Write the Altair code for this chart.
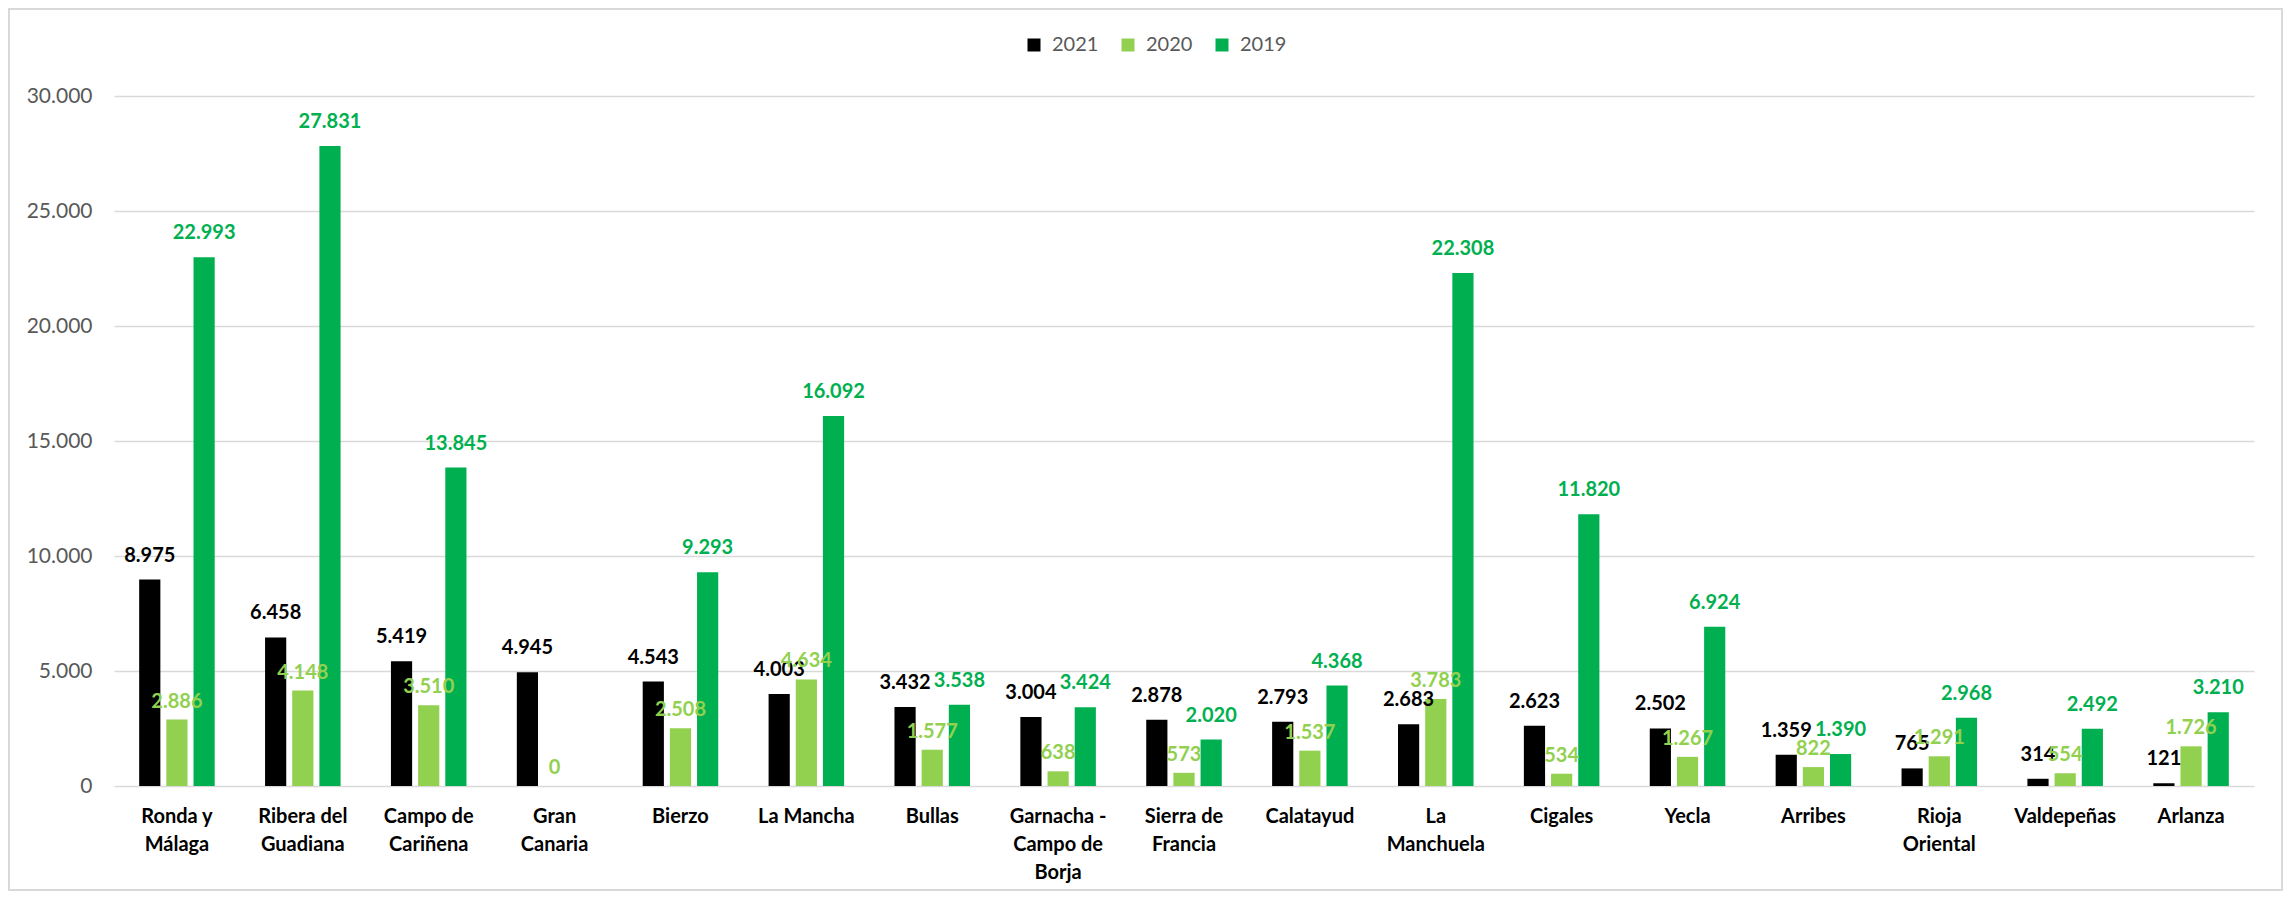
import json
import altair as alt
import pandas as pd

categories = ["Ronda y Málaga", "Ribera del Guadiana", "Campo de Cariñena", "Gran Canaria",
              "Bierzo", "La Mancha", "Bullas", "Garnacha - Campo de Borja", "Sierra de Francia",
              "Calatayud", "La Manchuela", "Cigales", "Yecla", "Arribes", "Rioja Oriental",
              "Valdepeñas", "Arlanza"]
category_lines = [["Ronda y", "Málaga"], ["Ribera del", "Guadiana"], ["Campo de", "Cariñena"],
                  ["Gran", "Canaria"], ["Bierzo"], ["La Mancha"], ["Bullas"],
                  ["Garnacha -", "Campo de", "Borja"], ["Sierra de", "Francia"], ["Calatayud"],
                  ["La", "Manchuela"], ["Cigales"], ["Yecla"], ["Arribes"], ["Rioja", "Oriental"],
                  ["Valdepeñas"], ["Arlanza"]]
series = ["2021", "2020", "2019"]
v2021 = [8975, 6458, 5419, 4945, 4543, 4003, 3432, 3004, 2878, 2793, 2683, 2623, 2502, 1359, 765, 314, 121]
v2020 = [2886, 4148, 3510, 0, 2508, 4634, 1577, 638, 573, 1537, 3783, 534, 1267, 822, 1291, 554, 1726]
v2019 = [22993, 27831, 13845, None, 9293, 16092, 3538, 3424, 2020, 4368, 22308, 11820, 6924, 1390, 2968, 2492, 3210]
colors = ["#000000", "#92D050", "#00B050"]
y_ticks = [0, 5000, 10000, 15000, 20000, 25000, 30000]

rows = []
for s, vals in zip(series, [v2021, v2020, v2019]):
    for c, v in zip(categories, vals):
        if v is None:
            continue
        rows.append({"cat": c, "series": s, "value": v, "label": f"{v:,}".replace(",", ".")})
df = pd.DataFrame(rows)

FONT = "Lato"
wrap = json.dumps(dict(zip(categories, category_lines)), ensure_ascii=False)

color_scale = alt.Scale(domain=series, range=colors)
x_enc = alt.X("cat:N", sort=categories, title=None,
              scale=alt.Scale(paddingInner=0.4, paddingOuter=0.2),
              axis=alt.Axis(labelAngle=0, labelFont=FONT, labelFontSize=20, labelFontWeight="bold",
                            labelColor="#000000", labelLineHeight=28, labelPadding=20,
                            ticks=False, domain=False, grid=False, labelLimit=0,
                            labelExpr="(" + wrap + ")[datum.value]"))
xo_enc = alt.XOffset("series:N", sort=series, scale=alt.Scale(paddingInner=0.22))
y_enc = alt.Y("value:Q", title=None, scale=alt.Scale(domain=[0, 30000], nice=False),
              axis=alt.Axis(values=y_ticks, labelFont=FONT, labelFontSize=21, labelColor="#595959",
                            labelPadding=22, ticks=False, domain=False, gridColor="#d9d9d9",
                            gridWidth=1.5,
                            labelExpr="replace(format(datum.value, ','), ',', '.')"))

base = alt.Chart(df)
bars = base.mark_bar().encode(
    x=x_enc, xOffset=xo_enc, y=y_enc,
    color=alt.Color("series:N", scale=color_scale, title=None,
                    legend=alt.Legend(orient="none", legendX=910, legendY=-61, direction="horizontal",
                                      symbolType="square", symbolSize=169, symbolStrokeWidth=0,
                                      labelFont=FONT, labelFontSize=20, labelColor="#595959",
                                      labelOffset=8, columnPadding=19)),
)
text_dark = base.transform_filter("datum.series != '2020'").mark_text(
    font=FONT, fontSize=20, fontWeight="bold", baseline="alphabetic", dy=-18
).encode(x=x_enc, xOffset=xo_enc, y=y_enc, text="label:N",
         color=alt.Color("series:N", scale=color_scale, legend=None))
text_light = base.transform_filter("datum.series == '2020'").mark_text(
    font=FONT, fontSize=20, fontWeight="bold", baseline="alphabetic", dy=-12
).encode(x=x_enc, xOffset=xo_enc, y=y_enc, text="label:N",
         color=alt.Color("series:N", scale=color_scale, legend=None))

border = alt.Chart(pd.DataFrame({"k": [0]})).mark_rect(
    filled=False, stroke="#d9d9d9", strokeWidth=2
).encode(x=alt.value(-105), x2=alt.value(2168), y=alt.value(-87), y2=alt.value(794))

chart = alt.layer(border, bars, text_dark, text_light).properties(
    width=2140, height=690,
    background="white",
    autosize=alt.AutoSizeParams(type="none"),
    padding={"left": 106, "top": 88, "right": 30, "bottom": 106},
).configure_view(strokeWidth=0)

chart.save("out.html", embed_options={"renderer": "svg", "actions": False})
